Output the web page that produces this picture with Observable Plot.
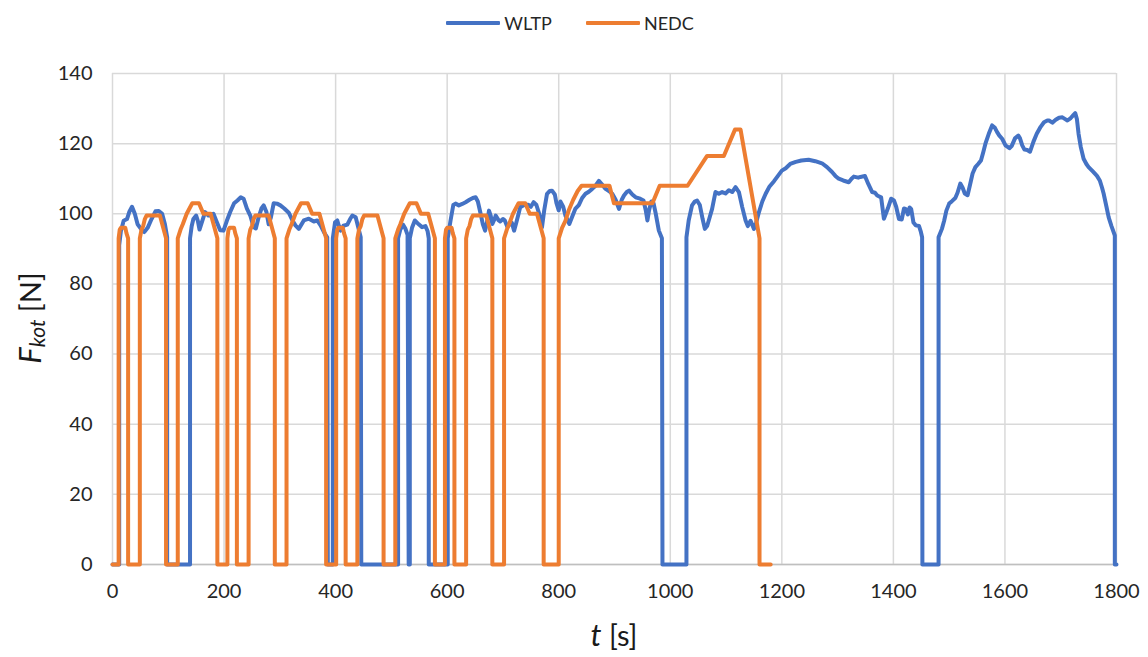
<!DOCTYPE html>
<html><head><meta charset="utf-8">
<script src="https://cdn.jsdelivr.net/npm/d3@7"></script>
<script src="https://cdn.jsdelivr.net/npm/@observablehq/plot@0.6"></script>
<style>
body{margin:0;background:#fff;font-family:Lato,"Open Sans",sans-serif;}
#legend{height:45px;display:flex;justify-content:center;align-items:center;gap:34px;font-size:18px;color:#262626;padding-right:8px;box-sizing:border-box;}
.item{display:flex;align-items:center;gap:4px}
.sw{width:54px;height:4px;border-radius:1px}
</style></head><body>
<div id="legend"></div><div id="chart"></div>
<script>
const seriesNames = ["WLTP", "NEDC"];
const seriesColors = ["#4472C4", "#ED7D31"];
const xTicks = [0, 200, 400, 600, 800, 1000, 1200, 1400, 1600, 1800];
const yTicks = [0, 20, 40, 60, 80, 100, 120, 140];

const wltpT = [0,12,12,15,20,26,30,35,40,45,52,57,63,70,77,83,89,94,98,98,
139,139,142,145,150,153,156,160,166,172,176,181,186,193,199,205,211,218,224,230,235,241,247,253,257,262,267,271,276,280,284,289,295,301,308,316,323,328,334,343,352,361,367,373,380,385,386,
395,395,399,403,406,409,414,421,426,430,436,440,445,446,
512,512,516,521,525,529,531,533,533,537,542,549,555,561,565,567,567,
601,601,606,611,615,621,627,633,640,646,651,655,660,664,668,672,675,678,681,685,687,692,695,700,703,708,712,716,720,724,728,731,738,745,750,755,760,765,770,774,779,784,788,793,796,800,803,808,812,819,825,830,836,842,848,854,860,866,872,877,884,890,896,902,908,913,917,922,926,932,938,946,952,956,959,962,966,970,974,979.5,985,986,
1029,1029,1033,1039,1044,1048,1053,1058,1062,1066,1069,1075,1081,1087,1093,1099,1105,1111,1117,1123,1129,1135,1139,1144,1150,1154,1159,1165,1171,1178,1186,1193,1200,1207,1215,1225,1235,1248,1260,1272,1281,1290,1296,1302,1310,1320,1325,1329,1337,1341,1349,1355,1362,1367,1371,1378,1383,1390,1396,1401,1405,1410,1415,1419,1422,1426,1429,1432,1436,1440,1446,1449,1451.5,1452,
1481,1481,1487,1491,1495,1500,1505,1511,1515,1520,1524,1528,1533,1537,1542,1547,1552,1557,1561,1565,1571,1577,1582,1586,1590,1595,1601,1608,1612,1618,1624,1627,1631,1635,1640,1645,1651,1657,1664,1670,1676,1679,1685,1691,1697,1703,1708,1712,1718,1723,1726,1729,1732,1736,1741,1746,1750,1758,1765,1770,1774,1777,1782,1786,1791,1797,1797,1800];
const wltpF = [0,0,91,95,98,98.5,100.5,102,100,97,95.5,94.8,96,98.5,100.7,100.8,100,97,93.3,0,
0,93,96.5,98.5,99.5,98,95.5,97.5,100.5,99.5,99.5,100,98,95.3,95.2,98,100.5,103,103.8,104.7,104.3,101.5,99.5,96.2,95.8,99,101.5,102.4,100.5,97,99,103,102.9,102.4,101.5,100.3,98,96.7,95.7,98.1,98.6,97.8,98.1,96.7,94.5,93.3,0,
0,93,97.6,98.1,96.5,95.2,96.6,96.9,98.5,99.5,99,96.5,93.3,0,
0,93,95.5,96.9,95.8,94,0,0,93,96,98.1,97,96.2,96.5,95,93,0,
0,93,98,102.5,102.9,102.4,102.8,103.3,104,104.5,104.7,103.5,100,97,95.2,98,100.9,99.5,97.1,98.5,99.5,98.2,97.8,98.5,98.2,96.2,97,97.4,95.2,97.5,100,101.9,102.5,102.6,102,103.3,102.5,100,96.2,101,105.7,106.5,106.6,105.5,103,101,103.5,102,99.5,97.1,99.5,101.5,102.5,104.5,105.7,106.3,107.1,108,109.4,108.5,107.1,106.5,105.7,104,101.4,104,105.2,106.2,106.6,105.5,104.7,104.3,103.8,101,98.1,101,103.5,103,100,95.2,93,0,
0,93.3,98.1,102.4,103.5,103.8,102.5,98.5,95.7,96.5,98.1,101.4,106.2,105.7,106.2,105.8,106.7,106.2,107.6,106.2,101.9,98.1,96.5,98,95.7,97.5,100.5,103.5,105.7,107.8,109.3,110.8,112.3,113,114.2,114.8,115.2,115.4,115,114.4,113.3,111.9,110.8,110,109.5,109,110,110.6,110.3,110.5,110.8,108.5,106.2,106,105.2,104.7,98.6,101.5,104.3,103.8,102,98.5,98.4,101.5,101.4,99.8,101.8,101.3,97.5,96.7,96.5,95,93.3,0,
0,93.3,95.7,98,100.9,102.9,103.6,104.5,106,108.6,107.5,105.8,105.3,108,111.5,113.3,114.2,115.2,117.5,120,122.8,125.2,124.5,123.3,122.3,121.4,119.5,118.7,119.3,121.5,122.3,121.5,119.5,118.3,118.2,117.7,120.5,122.8,124.8,126.1,126.6,126.6,126,126.8,127.4,127.5,127,126.6,127.3,128.2,128.7,127,122.8,119,115.7,114.2,113.3,112,110.8,109.5,107.5,105.7,102,99,96.5,93.8,0,0];

const nedcT = [0,11,11,13,15,23,25,28,28,49,49,52,55,58,61,85,96,96,117,117,122,126,133,138,143,155,163,176,188,188,
206,206,208,210,218,220,223,223,244,244,247,250,253,256,280,291,291,312,312,317,321,328,333,338,350,358,371,383,383,
401,401,403,405,413,415,418,418,439,439,442,445,448,451,475,486,486,507,507,512,516,523,528,533,545,553,566,578,578,
596,596,598,600,608,610,613,613,634,634,637,640,643,646,670,681,681,702,702,707,711,718,723,728,740,748,761,773,773,
800,800,806,812,818,826,834,841,891,899,968,981,1031,1066,1096,1116,1126,1160,1160,1180];
const nedcF = [0,0,93,95.5,96,96,94.5,93,0,0,93,95.5,96.5,98.5,99.5,99.5,93,0,0,93,95.5,97,100,101.5,103,103,100,100,93,0,
0,93,95.5,96,96,94.5,93,0,0,93,95.5,96.5,98.5,99.5,99.5,93,0,0,93,95.5,97,100,101.5,103,103,100,100,93,0,
0,93,95.5,96,96,94.5,93,0,0,93,95.5,96.5,98.5,99.5,99.5,93,0,0,93,95.5,97,100,101.5,103,103,100,100,93,0,
0,93,95.5,96,96,94.5,93,0,0,93,95.5,96.5,98.5,99.5,99.5,93,0,0,93,95.5,97,100,101.5,103,103,100,100,93,0,
0,93,96,98,101,104,106.5,108,108,103,103,108,108,116.5,116.5,124,124,93,0,0];

const wltp = wltpT.map((t, i) => ({t, F: wltpF[i]}));
const nedc = nedcT.map((t, i) => ({t, F: nedcF[i]}));

// legend
const leg = d3.select("#legend");
seriesNames.forEach((n, i) => {
  const it = leg.append("div").attr("class", "item");
  it.append("div").attr("class", "sw").style("background", seriesColors[i]);
  it.append("span").text(n);
});

const font = "Lato, 'Open Sans', sans-serif";
const fmt = d3.format("d");
const chart = Plot.plot({
  width: 1148, height: 612,
  marginTop: 28, marginLeft: 112, marginRight: 32, marginBottom: 93,
  x: {domain: [0, 1800]},
  y: {domain: [0, 140]},
  style: {fontSize: "20px", fontFamily: font, color: "#262626", background: "#fff"},
  marks: [
    Plot.gridX(xTicks, {stroke: "#d9d9d9", strokeOpacity: 1, strokeWidth: 1.5}),
    Plot.gridY(yTicks, {stroke: "#d9d9d9", strokeOpacity: 1, strokeWidth: 1.5}),
    Plot.ruleY([0], {stroke: "#bfbfbf", strokeWidth: 1.5}),
    Plot.line(wltp, {x: "t", y: "F", stroke: seriesColors[0], strokeWidth: 4, strokeLinejoin: "round", curve: "linear"}),
    Plot.line(nedc, {x: "t", y: "F", stroke: seriesColors[1], strokeWidth: 4, strokeLinejoin: "round", curve: "linear"}),
    Plot.axisX(xTicks, {tickSize: 0, tickPadding: 19, label: null, tickFormat: fmt, fill: "#262626"}),
    Plot.axisY(yTicks, {tickSize: 0, tickPadding: 20, label: null, tickFormat: fmt, fill: "#262626"})
  ]
});
document.getElementById("chart").appendChild(chart);

const svg = d3.select(chart);
// y axis title
const yt = svg.append("text")
  .attr("transform", "translate(41,273) rotate(-90)")
  .attr("text-anchor", "middle")
  .style("font-family", font).style("fill", "#1a1a1a");
yt.append("tspan").text("F").style("font-style", "italic").style("font-size", "31px");
yt.append("tspan").text("kot").style("font-style", "italic").style("font-size", "21px").attr("dy", "4");
yt.append("tspan").text(" [N]").style("font-size", "29px").attr("dy", "-4");
// x axis title
const xt = svg.append("text")
  .attr("x", 112 + 1004 / 2).attr("y", 601)
  .attr("text-anchor", "middle")
  .style("font-family", font).style("fill", "#1a1a1a");
xt.append("tspan").text("t").style("font-style", "italic").style("font-size", "31px");
xt.append("tspan").text(" [s]").style("font-size", "29px");
</script>
</body></html>
